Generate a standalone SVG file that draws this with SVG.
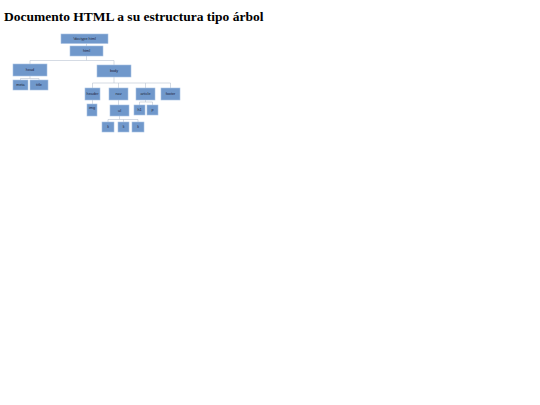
<svg xmlns="http://www.w3.org/2000/svg" width="540" height="405" viewBox="0 0 540 405">
<style>
.n{fill:#7098cb;stroke:#a9c2e3;stroke-width:0.6}
.t{font-family:"Liberation Sans",Arial,sans-serif;font-size:3.8px;fill:#22263a;text-anchor:middle}
.c{fill:none;stroke:#b9c3d2;stroke-width:0.6}
</style>
<rect width="540" height="405" fill="#ffffff"/>
<text x="4" y="21" font-family="'Liberation Serif','Times New Roman',serif" font-weight="bold" font-size="13.5" fill="#000">Documento HTML a su estructura tipo árbol</text>
<g id="connectors">
<path class="c" d="M86.5 43.5V46"/>
<path class="c" d="M86.5 56V60.5H30V64M86.5 60.5H114V65"/>
<path class="c" d="M30 76V78.5H20.5V80M30 78.5H39V80"/>
<path class="c" d="M114 77V83H92.5V88M114 83H170.5V88M118.5 83V88M145.5 83V88"/>
<path class="c" d="M92.5 100V104"/>
<path class="c" d="M118.5 100V105"/>
<path class="c" d="M145.5 100V102H139.5V105M145.5 102H152.5V105"/>
<path class="c" d="M119.5 116V119.5H108V122M119.5 119.5H138V122M123.5 119.5V122"/>
</g>
<g id="doctype"><rect class="n" x="61" y="34" width="47" height="9.5"/><text class="t" x="84.5" y="40.2">!doctype html</text></g>
<g id="html"><rect class="n" x="70" y="46" width="33" height="10"/><text class="t" x="86.5" y="52.4">html</text></g>
<g id="head"><rect class="n" x="13" y="64" width="34" height="12"/><text class="t" x="30" y="71.4">head</text></g>
<g id="body"><rect class="n" x="97" y="65" width="34" height="12"/><text class="t" x="114" y="72.4">body</text></g>
<g id="meta"><rect class="n" x="13" y="80" width="15" height="10"/><text class="t" x="20.5" y="86.4">meta</text></g>
<g id="title"><rect class="n" x="30" y="80" width="18" height="10"/><text class="t" x="39" y="86.4">title</text></g>
<g id="header"><rect class="n" x="85" y="88" width="15" height="12"/><text class="t" x="92.5" y="95.4">header</text></g>
<g id="nav"><rect class="n" x="109" y="88" width="19" height="12"/><text class="t" x="118.5" y="95.4">nav</text></g>
<g id="article"><rect class="n" x="136" y="88" width="19" height="12"/><text class="t" x="145.5" y="95.4">article</text></g>
<g id="footer"><rect class="n" x="161" y="88" width="19" height="12"/><text class="t" x="170.5" y="95.4">footer</text></g>
<g id="img"><rect class="n" x="87" y="104" width="10" height="12"/><text class="t" x="92" y="109">img</text></g>
<g id="ul"><rect class="n" x="110" y="105" width="19" height="11"/><text class="t" x="119.5" y="111.9">ul</text></g>
<g id="h1"><rect class="n" x="134" y="105" width="11" height="10"/><text class="t" x="139.5" y="111.4">h1</text></g>
<g id="p"><rect class="n" x="147" y="105" width="11" height="10"/><text class="t" x="152.5" y="111.4">p</text></g>
<g id="li1"><rect class="n" x="102" y="122" width="12" height="10"/><text class="t" x="108" y="128.4">li</text></g>
<g id="li2"><rect class="n" x="118" y="122" width="11" height="10"/><text class="t" x="123.5" y="128.4">li</text></g>
<g id="li3"><rect class="n" x="132" y="122" width="12" height="10"/><text class="t" x="138" y="128.4">li</text></g>
</svg>
